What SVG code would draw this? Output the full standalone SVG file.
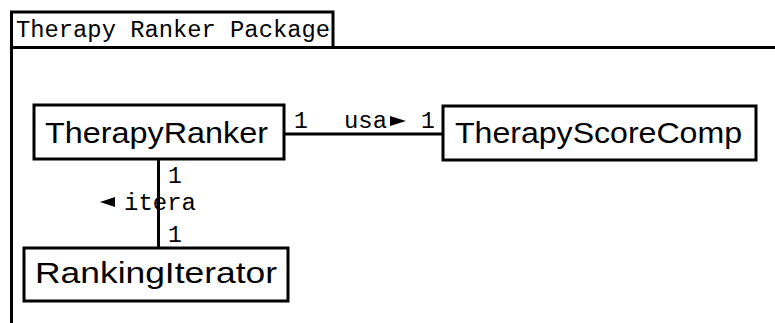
<svg xmlns="http://www.w3.org/2000/svg" width="775" height="323" viewBox="0 0 775 323">
<style>
.frame{fill:none;stroke:#000;stroke-width:3}
.box{fill:#fff;stroke:#000;stroke-width:3}
.conn{fill:none;stroke:#000;stroke-width:3}
.mono{font-family:"Liberation Mono","DejaVu Sans Mono",monospace;font-size:23px;fill:#000}
.cls{font-family:"Liberation Sans",Arial,sans-serif;font-size:29px;fill:#000}
.tri{fill:#000}
</style>
<rect width="775" height="323" fill="#fff"/>
<g id="package">
<path class="frame" d="M11.5,323 V12 H333 V47.5 M11.5,47.5 H775"/>
<text class="mono" x="16" y="37" textLength="314" lengthAdjust="spacingAndGlyphs">Therapy Ranker Package</text>
</g>
<g id="connectors">
<line class="conn" x1="284" y1="134" x2="443" y2="134"/>
<line class="conn" x1="158.5" y1="159" x2="158.5" y2="248"/>
<text class="mono" x="294" y="128">1</text>
<text class="mono" x="344" y="128" textLength="43" lengthAdjust="spacingAndGlyphs">usa</text>
<polygon class="tri" points="390,116 406,121 390,126"/>
<text class="mono" x="421" y="128">1</text>
<text class="mono" x="168" y="183">1</text>
<polygon class="tri" points="115,197 115,207 100,202"/>
<text class="mono" x="124" y="210" textLength="72" lengthAdjust="spacingAndGlyphs">itera</text>
<text class="mono" x="168" y="242">1</text>
</g>
<g id="TherapyRanker">
<rect class="box" x="34" y="105" width="250" height="54"/>
<text class="cls" x="45" y="143" textLength="223" lengthAdjust="spacingAndGlyphs">TherapyRanker</text>
</g>
<g id="TherapyScoreComp">
<rect class="box" x="443" y="106" width="313" height="54"/>
<text class="cls" x="455" y="143" textLength="287" lengthAdjust="spacingAndGlyphs">TherapyScoreComp</text>
</g>
<g id="RankingIterator">
<rect class="box" x="24" y="248" width="264" height="53"/>
<text class="cls" x="35" y="283" textLength="242" lengthAdjust="spacingAndGlyphs">RankingIterator</text>
</g>
</svg>
